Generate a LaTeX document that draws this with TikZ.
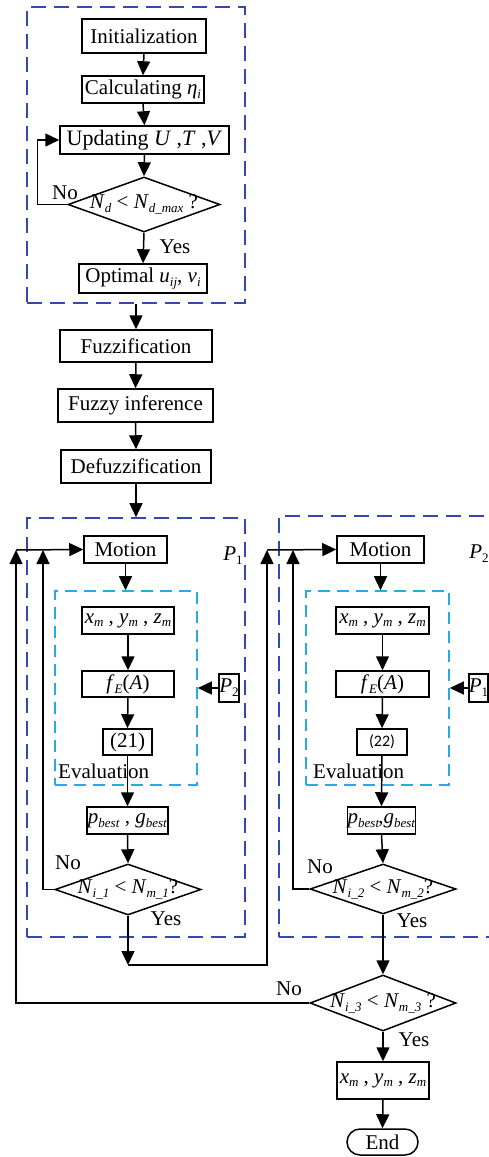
\documentclass[tikz,border=0pt]{standalone}
\usepackage{fontspec}
\setmainfont{Liberation Serif}
\newfontfamily\calfont{Carlito}
\usetikzlibrary{arrows.meta,shapes.geometric}
\newcommand{\vs}[2]{\textit{#1}\raisebox{-0.4ex}{\fontsize{13}{13}\selectfont\textit{#2}}}
\newcommand{\vsu}[2]{\textit{#1}\raisebox{-0.4ex}{\fontsize{13}{13}\selectfont #2}}
\definecolor{grpblue}{RGB}{52,72,175}
\definecolor{evalcyan}{RGB}{40,170,230}
\tikzset{
  box/.style={draw, line width=1.5pt, inner sep=0pt, font=\fontsize{21}{24}\selectfont},
  dia/.style={draw, diamond, line width=1.5pt, inner sep=0pt},
  grp/.style={draw=grpblue, dash pattern=on 15pt off 8pt, line width=1.6pt, inner sep=0pt},
  evalbox/.style={draw=evalcyan, dash pattern=on 12pt off 7pt, line width=1.6pt, inner sep=0pt},
  arr/.style={-{Triangle[length=14pt,width=13pt]}, line width=1.5pt},
  lbl/.style={font=\fontsize{21}{24}\selectfont, inner sep=0pt}
}
\begin{document}
\begin{tikzpicture}[x=1pt,y=-1pt]
\useasboundingbox (0,0) rectangle (489,1157);
\clip (0,0) rectangle (489,1157);

% group frames
\node[grp, minimum width=218pt, minimum height=296pt] (g1) at (136,155) {};
\node[grp, minimum width=218pt, minimum height=419pt] (g2) at (136,727.5) {};
\node[grp, minimum width=260pt, minimum height=421pt] (g3) at (409,726.5) {};
\node[evalbox, minimum width=142pt, minimum height=194pt] (c1) at (126,688) {};
\node[evalbox, minimum width=143pt, minimum height=194pt] (c2) at (377.5,688) {};

% top block
\node[box, minimum width=124pt, minimum height=34pt] (init) at (144,36) {Initialization};
\node[box, minimum width=122pt, minimum height=27pt] (calc) at (143,89.5) {Calculating \vs{η}{i}};
\node[box, minimum width=169pt, minimum height=28pt, font=\fontsize{22}{24}\selectfont] (upd) at (144.5,140) {Updating \textit{U} ,\textit{T} ,\textit{V}};
\node[dia, minimum width=152pt, minimum height=55pt] (d1) at (144,204.5) {};
\node[lbl] (t1) at (d1.center) {\vs{N}{d} < \vs{N}{d\_max} ?};
\node[box, minimum width=128pt, minimum height=29pt] (opt) at (143,278.5) {Optimal \vs{u}{ij}, \vs{v}{i}};
\node[lbl] (no1) at (65,193) {No};
\node[lbl] (yes1) at (175,247) {Yes};

\draw[arr] (init.south) -- (calc.north);
\draw[arr] (calc.south) -- (upd.north);
\draw[arr] (upd.south) -- (d1.north);
\draw[arr] (d1.south) -- (opt.north);
\draw[arr] (d1.west) -- ++(-30,0) |- (upd.west);

% middle chain
\node[box, minimum width=152pt, minimum height=32pt] (fuzz) at (136,346) {Fuzzification};
\node[box, minimum width=155pt, minimum height=33pt] (inf) at (135.5,405.5) {Fuzzy inference};
\node[box, minimum width=150pt, minimum height=33pt] (defz) at (136,466.5) {Defuzzification};
\draw[arr] (g1.south) -- (fuzz.north);
\draw[arr] (fuzz.south) -- (inf.north);
\draw[arr] (inf.south) -- (defz.north);
\draw[arr] (defz.south) -- (g2.north);

% column 1
\node[box, minimum width=83pt, minimum height=27pt] (m1) at (125.5,549.5) {Motion};
\node[lbl] (p1l) at (233,556) {\vsu{P}{1}};
\node[box, minimum width=92pt, minimum height=27pt] (x1) at (128,620.5) {\vs{x}{m} , \vs{y}{m} , \vs{z}{m}};
\node[box, minimum width=92pt, minimum height=26pt] (f1) at (128,684) {\vs{f}{E}(\textit{A})};
\node[box, minimum width=20pt, minimum height=28pt] (q2) at (229,688) {\vsu{P}{2}};
\node[box, minimum width=49pt, minimum height=26pt] (e21) at (127.5,742) {(21)};
\node[lbl, anchor=west] (ev1) at (58,771) {Evaluation};
\node[box, minimum width=81pt, minimum height=27pt] (pb1) at (127.5,820.5) {\vs{p}{best} , \vs{g}{best}};
\node[dia, minimum width=146pt, minimum height=51pt] (d2) at (128,889.5) {};
\node[lbl] (t2) at (d2.center) {\vs{N}{i\_1} < \vs{N}{m\_1}?};
\node[lbl] (no2) at (68,863) {No};
\node[lbl] (yes2) at (166,919) {Yes};

\coordinate (j1) at (16,550);
\coordinate (k1) at (43,550);
\coordinate (j2) at (267,550);
\coordinate (k2) at (293,550);
\coordinate (b2) at (128,965);

\draw[arr] (j1) -- (m1.west);
\draw[arr] (m1.south) -- (m1.south |- c1.north);
\draw[arr] (x1.south) -- (f1.north);
\draw[arr] (f1.south) -- (e21.north);
\draw[arr] (e21.south) -- (pb1.north);
\draw[arr] (pb1.south) -- (d2.north);
\draw[arr] (q2.west) -- (c1.east |- q2.west);
\draw[arr] (d2.west) -| (k1);
\draw[arr] (d2.south) -- (b2);
\draw[arr] (b2) -| (j2);

% column 2
\node[box, minimum width=87pt, minimum height=27pt] (m2) at (380.5,549.5) {Motion};
\node[lbl] (p2l) at (479,554) {\vsu{P}{2}};
\node[box, minimum width=93pt, minimum height=27pt] (x2) at (382.5,620.5) {\vs{x}{m} , \vs{y}{m} , \vs{z}{m}};
\node[box, minimum width=93pt, minimum height=26pt] (f2) at (382.5,684) {\vs{f}{E}(\textit{A})};
\node[box, minimum width=19pt, minimum height=28pt] (q1) at (478.5,688) {\vsu{P}{1}};
\node[box, minimum width=50pt, minimum height=26pt, font=\calfont\fontsize{16}{18}\selectfont] (e22) at (382,742) {(22)};
\node[lbl, anchor=west] (ev2) at (313,771) {Evaluation};
\node[box, minimum width=65pt, minimum height=27pt] (pb2) at (381.5,820.5) {\vs{p}{best}\kern-1pt,\vs{g}{best}};
\node[dia, minimum width=146pt, minimum height=50pt] (d3) at (383,889) {};
\node[lbl] (t3) at (d3.center) {\vs{N}{i\_2} < \vs{N}{m\_2}?};
\node[lbl] (no3) at (320,867) {No};
\node[lbl] (yes3) at (412,921) {Yes};

\draw[arr] (j2) -- (m2.west);
\draw[arr] (m2.south) -- (m2.south |- c2.north);
\draw[arr] (x2.south) -- (f2.north);
\draw[arr] (f2.south) -- (e22.north);
\draw[arr] (e22.south) -- (pb2.north);
\draw[arr] (pb2.south) -- (d3.north);
\draw[arr] (q1.west) -- (c2.east |- q1.west);
\draw[arr] (d3.west) -| (k2);

% bottom
\node[dia, minimum width=146pt, minimum height=56pt] (d4) at (383,1003) {};
\node[lbl] (t4) at (d4.center) {\vs{N}{i\_3} < \vs{N}{m\_3} ?};
\node[lbl] (no4) at (289,989) {No};
\node[lbl] (yes4) at (414,1040) {Yes};
\node[box, minimum width=92pt, minimum height=37pt] (xf) at (383,1080.5) {\vs{x}{m} , \vs{y}{m} , \vs{z}{m}};
\node[box, minimum width=71pt, minimum height=26pt, rounded corners=13pt] (endn) at (382.5,1142) {End};

\draw[arr] (d3.south) -- (d4.north);
\draw[arr] (d4.south) -- (xf.north);
\draw[arr] (xf.south) -- (endn.north);
\draw[arr] (d4.west) -| (j1);
\end{tikzpicture}
\end{document}
